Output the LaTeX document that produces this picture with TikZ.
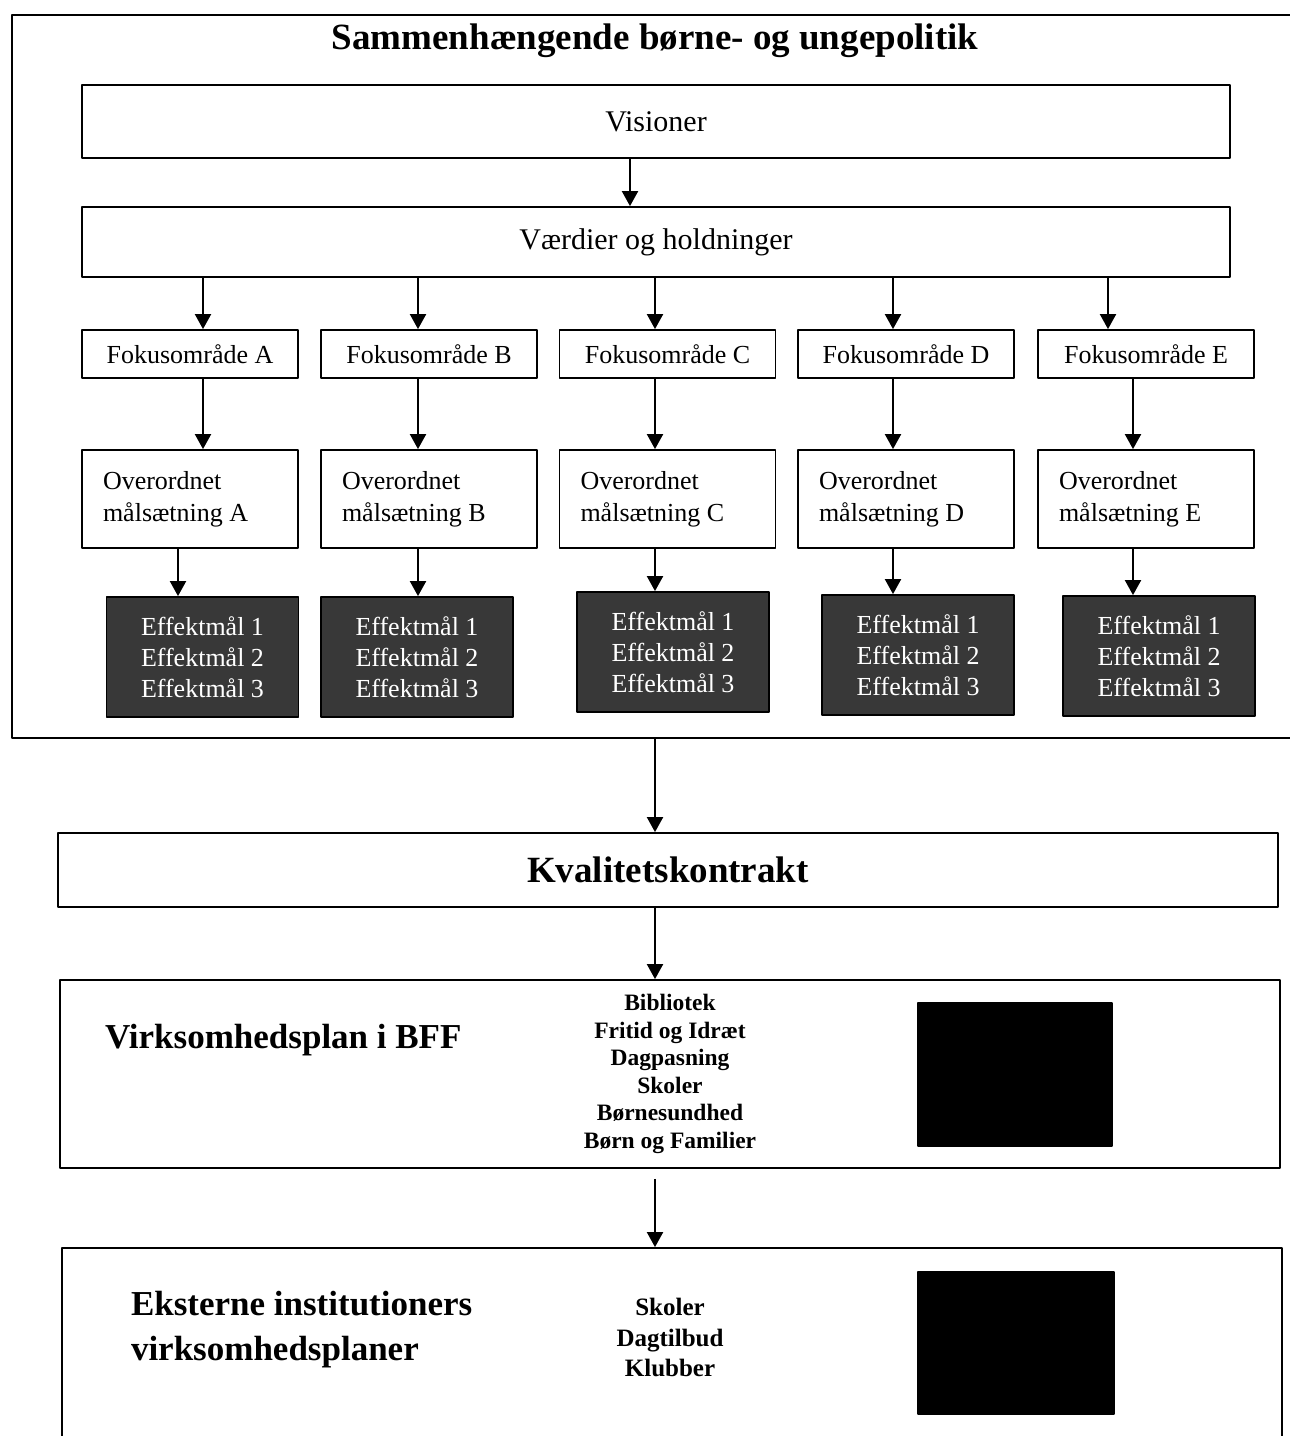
\documentclass[tikz,border=0pt]{standalone}
\usepackage{fontspec}
\setmainfont{Liberation Serif}
\usetikzlibrary{arrows.meta}
\tikzset{
  box/.style={draw,rectangle,line width=1.8bp,inner sep=0pt},
  bred/.style={box,minimum width=1148bp,font=\fontsize{30bp}{34bp}\selectfont},
  fokus/.style={box,minimum width=216bp,minimum height=48bp,font=\fontsize{26bp}{30bp}\selectfont},
  maal/.style={box,minimum height=98bp,text width=174bp,inner xsep=21bp,align=flush left,font=\fontsize{26bp}{32bp}\selectfont},
  effekt/.style={box,fill=black!78,text=white,minimum width=192bp,minimum height=120bp,align=center,font=\fontsize{26bp}{31bp}\selectfont},
  ramme/.style={box,minimum width=1220bp},
  hemmelig/.style={box,fill=black},
}
\begin{document}
\begin{tikzpicture}[>={Triangle[length=15bp,width=16bp]},line join=bevel,line width=2bp]
    \useasboundingbox (0bp,0bp) rectangle (1290bp,-1436bp);
    %%
    \node (politik) at (653.5bp,-376.5bp) [box,minimum width=1283bp,minimum height=723bp] {};
    \node (titel) at (655bp,-41bp) [font=\fontsize{37bp}{40bp}\selectfont\bfseries] {Sammenhængende børne- og ungepolitik};
    \node (visioner) at (656bp,-121.5bp) [bred,minimum height=73bp] {Visioner};
    \node (vaerdier) at (656bp,-242bp) [bred,minimum height=70bp] {Værdier og holdninger};
    \node (fokA) at (190bp,-354bp) [fokus] {Fokusområde A};
    \node (fokB) at (429bp,-354bp) [fokus] {Fokusområde B};
    \node (fokC) at (667.5bp,-354bp) [fokus] {Fokusområde C};
    \node (fokD) at (906bp,-354bp) [fokus] {Fokusområde D};
    \node (fokE) at (1146bp,-354bp) [fokus] {Fokusområde E};
    \node (maalA) at (190bp,-499bp) [maal] {Overordnet\\målsætning A};
    \node (maalB) at (429bp,-499bp) [maal] {Overordnet\\målsætning B};
    \node (maalC) at (667.5bp,-499bp) [maal] {Overordnet\\målsætning C};
    \node (maalD) at (906bp,-499bp) [maal] {Overordnet\\målsætning D};
    \node (maalE) at (1146bp,-499bp) [maal] {Overordnet\\målsætning E};
    \node (effA) at (202.5bp,-657bp) [effekt] {Effektmål 1\\Effektmål 2\\Effektmål 3};
    \node (effB) at (417bp,-657bp) [effekt] {Effektmål 1\\Effektmål 2\\Effektmål 3};
    \node (effC) at (673bp,-652bp) [effekt] {Effektmål 1\\Effektmål 2\\Effektmål 3};
    \node (effD) at (918bp,-655bp) [effekt] {Effektmål 1\\Effektmål 2\\Effektmål 3};
    \node (effE) at (1159bp,-656bp) [effekt] {Effektmål 1\\Effektmål 2\\Effektmål 3};
    %%
    \node (kontrakt) at (668bp,-870bp) [ramme,minimum height=74bp,font=\fontsize{37bp}{40bp}\selectfont\bfseries] {Kvalitetskontrakt};
    \node (bff) at (670bp,-1074bp) [ramme,minimum height=188bp] {};
    \node (bffnavn) at (104bp,-1040bp) [anchor=west,inner sep=0pt,font=\fontsize{35bp}{40bp}\selectfont\bfseries] {Virksomhedsplan i BFF};
    \node (bffliste) at (670bp,-1074bp) [align=center,inner sep=0pt,font=\fontsize{23.5bp}{27.5bp}\selectfont\bfseries] {Bibliotek\\Fritid og Idræt\\Dagpasning\\Skoler\\Børnesundhed\\Børn og Familier};
    \node (bffsort) at (1015bp,-1074.5bp) [hemmelig,minimum width=194bp,minimum height=143bp] {};
    \node (ekstern) at (672bp,-1346.5bp) [ramme,minimum height=197bp] {};
    \node (ekstnavn) at (130bp,-1329.5bp) [anchor=west,align=flush left,inner sep=0pt,font=\fontsize{35bp}{45bp}\selectfont\bfseries] {Eksterne institutioners\\virksomhedsplaner};
    \node (ekstliste) at (670bp,-1337.5bp) [align=center,inner sep=0pt,font=\fontsize{25bp}{30.5bp}\selectfont\bfseries] {Skoler\\Dagtilbud\\Klubber};
    \node (ekstsort) at (1016bp,-1343bp) [hemmelig,minimum width=196bp,minimum height=142bp] {};
    %%
    \draw [->] ([xshift=-26bp]visioner.south) -- ([xshift=-26bp]vaerdier.north);
    \draw [->] ([xshift=13bp]fokA.north |- vaerdier.south) -- ([xshift=13bp]fokA.north);
    \draw [->] ([xshift=-11bp]fokB.north |- vaerdier.south) -- ([xshift=-11bp]fokB.north);
    \draw [->] ([xshift=-12.5bp]fokC.north |- vaerdier.south) -- ([xshift=-12.5bp]fokC.north);
    \draw [->] ([xshift=-13bp]fokD.north |- vaerdier.south) -- ([xshift=-13bp]fokD.north);
    \draw [->] ([xshift=-38bp]fokE.north |- vaerdier.south) -- ([xshift=-38bp]fokE.north);
    \draw [->] ([xshift=13bp]fokA.south) -- ([xshift=13bp]maalA.north);
    \draw [->] ([xshift=-11bp]fokB.south) -- ([xshift=-11bp]maalB.north);
    \draw [->] ([xshift=-12.5bp]fokC.south) -- ([xshift=-12.5bp]maalC.north);
    \draw [->] ([xshift=-13bp]fokD.south) -- ([xshift=-13bp]maalD.north);
    \draw [->] ([xshift=-13bp]fokE.south) -- ([xshift=-13bp]maalE.north);
    \draw [->] ([xshift=-12bp]maalA.south) -- ([xshift=-12bp]maalA.south |- effA.north);
    \draw [->] ([xshift=-11bp]maalB.south) -- ([xshift=-11bp]maalB.south |- effB.north);
    \draw [->] ([xshift=-12.5bp]maalC.south) -- ([xshift=-12.5bp]maalC.south |- effC.north);
    \draw [->] ([xshift=-13bp]maalD.south) -- ([xshift=-13bp]maalD.south |- effD.north);
    \draw [->] ([xshift=-13bp]maalE.south) -- ([xshift=-13bp]maalE.south |- effE.north);
    \draw [->] ([xshift=-13bp]kontrakt.north |- politik.south) -- ([xshift=-13bp]kontrakt.north);
    \draw [->] ([xshift=-13bp]kontrakt.south) -- ([xshift=-15bp]bff.north);
    \draw [->] ([xshift=-15bp,yshift=-10bp]bff.south) -- ([xshift=-17bp]ekstern.north);
    %
\end{tikzpicture}
\end{document}
